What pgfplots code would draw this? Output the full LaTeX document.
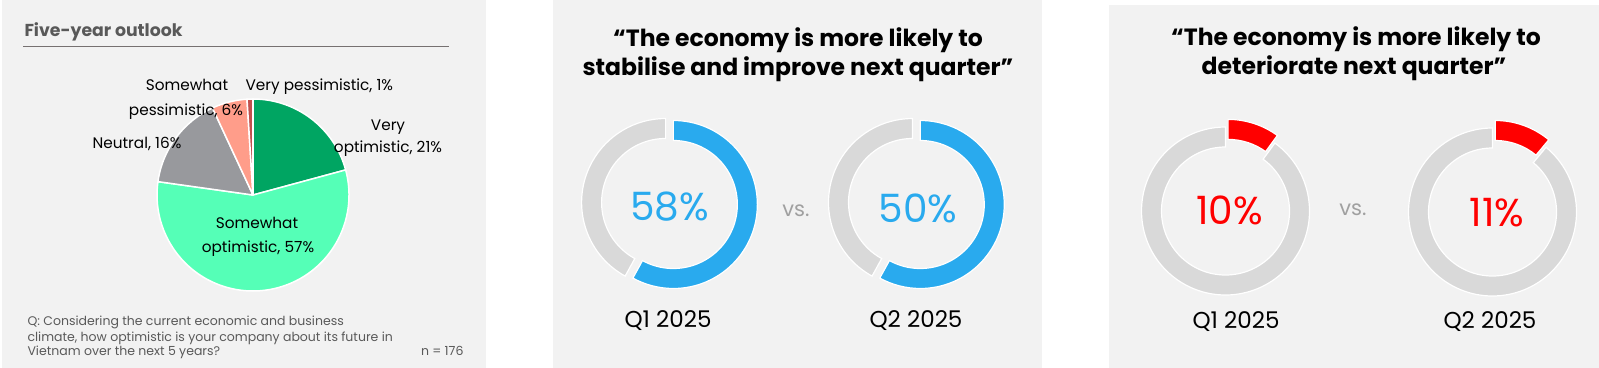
\documentclass[border=0pt]{standalone}
\usepackage{fontspec}
\setmainfont{Poppins}
\usepackage{pgfplots}
\pgfplotsset{compat=1.18}
\definecolor{panelbg}{RGB}{242,242,242}
\definecolor{donutgray}{RGB}{217,217,217}
\definecolor{donutblue}{RGB}{41,170,238}
\definecolor{donutred}{RGB}{255,0,0}
\definecolor{vsgray}{RGB}{160,160,160}
\definecolor{textgray}{RGB}{89,89,89}
\definecolor{rulegray}{RGB}{118,113,113}
\definecolor{pieA}{RGB}{0,165,98}
\definecolor{pieB}{RGB}{85,255,183}
\definecolor{pieC}{RGB}{152,153,157}
\definecolor{pieD}{RGB}{255,157,138}
\definecolor{pieE}{RGB}{192,80,77}
\newcommand\fs[2]{\fontsize{#1bp}{#2bp}\selectfont}
% pie slice: start angle, end angle, colour
\newcommand\pieslice[3]{%
  \fill[#3, draw=white, line width=1.5bp, line join=round] (axis cs:253,195) -- ++(#1:96bp)
    arc[start angle=#1, end angle=#2, radius=96bp] -- cycle;}
% donut segment: cx, cy, start, end, explode, colour
\newcommand\donutseg[6]{%
  \fill[#6, draw=white, line width=1.2bp] (axis cs:#1,#2) ++({(#3+#4)/2}:#5bp) ++(#3:84bp)
    arc[start angle=#3, end angle=#4, radius=84bp] -- ++(#4:-20bp)
    arc[start angle=#4, end angle=#3, radius=64bp] -- cycle;}
\begin{document}
\begin{tikzpicture}
% pie values (percent): 21, 57, 16, 6, 1 ; total 101
\pgfmathsetmacro\aA{90}
\pgfmathsetmacro\aB{\aA-21/101*360}
\pgfmathsetmacro\aC{\aB-57/101*360}
\pgfmathsetmacro\aD{\aC-16/101*360}
\pgfmathsetmacro\aE{\aD-6/101*360}
\pgfmathsetmacro\aF{\aE-1/101*360}
% donut arcs (percent of circle, as drawn in the reference)
\pgfmathsetmacro\dA{90-58*3.6}
\pgfmathsetmacro\dB{90-58*3.6}% the reference draws the Q2 arc as long as the Q1 arc
\pgfmathsetmacro\dC{90-10*3.6}
\pgfmathsetmacro\dD{90-11*3.6}
\useasboundingbox (0,0) rectangle (1599bp,368bp);
\begin{axis}[at={(0,0)}, anchor=south west, scale only axis,
  width=1599bp, height=368bp, xmin=0, xmax=1599, ymin=0, ymax=368,
  y dir=reverse, hide axis, clip=false]
% panels
\fill[panelbg] (axis cs:2,0) rectangle (axis cs:486,368);
\fill[panelbg] (axis cs:553,0) rectangle (axis cs:1042,368);
\fill[panelbg] (axis cs:1109,5) rectangle (axis cs:1599,368);
% ---------- panel 1 ----------
\node[anchor=base west, text=textgray, font=\fs{17.3}{20}\bfseries] at (axis cs:21,36.7) {Five-year outlook};
\draw[rulegray, line width=1bp] (axis cs:23,47) -- (axis cs:449,47);
\pieslice{\aA}{\aB}{pieA}
\pieslice{\aB}{\aC}{pieB}
\pieslice{\aC}{\aD}{pieC}
\pieslice{\aD}{\aE}{pieD}
\pieslice{\aE}{\aF}{pieE}
\node[anchor=base, font=\fs{15.3}{18}] at (axis cs:187,90) {Somewhat};
\node[anchor=base, font=\fs{15.3}{18}] at (axis cs:186,115) {pessimistic, 6\%};
\node[anchor=base west, font=\fs{15.3}{18}] at (axis cs:242,90) {Very pessimistic, 1\%};
\node[anchor=base, font=\fs{15.3}{18}] at (axis cs:388,130) {Very};
\node[anchor=base, font=\fs{15.3}{18}] at (axis cs:388,152) {optimistic, 21\%};
\node[anchor=base, font=\fs{15.3}{18}] at (axis cs:137,148) {Neutral, 16\%};
\node[anchor=base, font=\fs{15.3}{18}] at (axis cs:257,228) {Somewhat};
\node[anchor=base, font=\fs{15.3}{18}] at (axis cs:258,252) {optimistic, 57\%};
\node[anchor=base west, text=textgray, font=\fs{12.5}{15}] at (axis cs:24,325.5) {Q: Considering the current economic and business};
\node[anchor=base west, text=textgray, font=\fs{12.5}{15}] at (axis cs:24,341) {climate, how optimistic is your company about its future in};
\node[anchor=base west, text=textgray, font=\fs{12.5}{15}] at (axis cs:24,355.5) {Vietnam over the next 5 years?};
\node[anchor=base east, text=textgray, font=\fs{12.5}{15}] at (axis cs:467,355.5) {n = 176};
% ---------- panel 2 ----------
\node[anchor=base, font=\fs{23.5}{27}\bfseries] at (axis cs:798,46.7) {“The economy is more likely to};
\node[anchor=base, font=\fs{23.5}{27}\bfseries] at (axis cs:798,75.5) {stabilise and improve next quarter”};
\donutseg{665.6}{202.5}{90}{\dA}{8}{donutblue}
\donutseg{665.6}{202.5}{\dA}{-270}{0}{donutgray}
\donutseg{912.5}{202.5}{90}{\dB}{8}{donutblue}
\donutseg{912.5}{202.5}{\dB}{-270}{0}{donutgray}
\node[anchor=base, text=donutblue, font=\fs{39}{44}] at (axis cs:669.5,220) {58\%};
\node[anchor=base, text=donutblue, font=\fs{39}{44}] at (axis cs:918,222.5) {50\%};
\node[anchor=base, text=vsgray, font=\fs{21}{24}] at (axis cs:796,216.5) {vs.};
\node[anchor=base, font=\fs{23}{26}] at (axis cs:668,327) {Q1 2025};
\node[anchor=base, font=\fs{23}{26}] at (axis cs:916,327) {Q2 2025};
% ---------- panel 3 ----------
\node[anchor=base, font=\fs{23.5}{27}\bfseries] at (axis cs:1356,45.7) {“The economy is more likely to};
\node[anchor=base, font=\fs{23.5}{27}\bfseries] at (axis cs:1354,74) {deteriorate next quarter”};
\donutseg{1225.5}{211}{90}{\dC}{8}{donutred}
\donutseg{1225.5}{211}{\dC}{-270}{0}{donutgray}
\donutseg{1492.5}{212}{90}{\dD}{8}{donutred}
\donutseg{1492.5}{212}{\dD}{-270}{0}{donutgray}
\node[anchor=base, text=donutred, font=\fs{39}{44}] at (axis cs:1229.5,224.5) {10\%};
\node[anchor=base, text=donutred, font=\fs{39}{44}] at (axis cs:1497,226) {11\%};
\node[anchor=base, text=vsgray, font=\fs{21}{24}] at (axis cs:1353,215) {vs.};
\node[anchor=base, font=\fs{23}{26}] at (axis cs:1236,328.5) {Q1 2025};
\node[anchor=base, font=\fs{23}{26}] at (axis cs:1490,328) {Q2 2025};
\end{axis}
\end{tikzpicture}
\end{document}
